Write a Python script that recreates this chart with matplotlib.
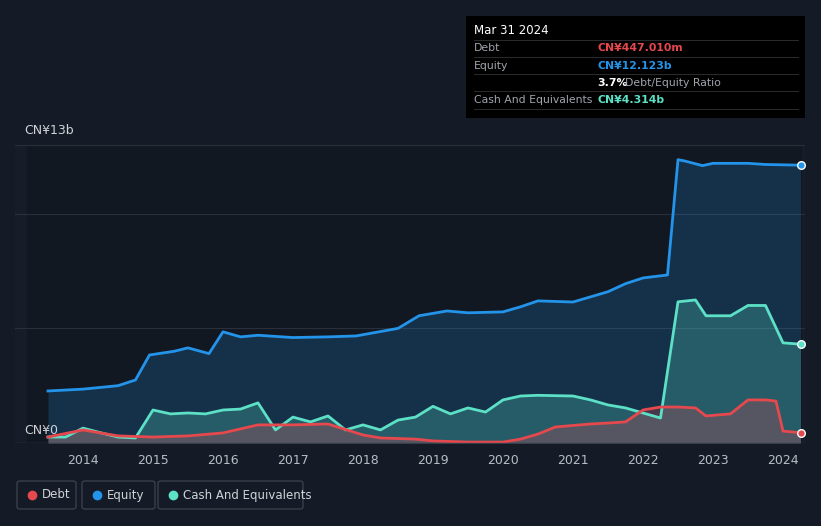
import numpy as np
import matplotlib.pyplot as plt
from matplotlib.patches import Rectangle, FancyBboxPatch

years = [2013.5, 2014.0, 2014.5, 2014.75, 2014.95, 2015.3, 2015.5, 2015.8, 2016.0, 2016.25,
         2016.5, 2017.0, 2017.5, 2017.9, 2018.5, 2018.8, 2019.2, 2019.5, 2020.0, 2020.25,
         2020.5, 2021.0, 2021.5, 2021.75, 2022.0, 2022.35, 2022.5, 2022.6, 2022.85, 2023.0,
         2023.5, 2023.75, 2024.25]
equity = [2.27, 2.35, 2.5, 2.75, 3.84, 4.0, 4.15, 3.9, 4.85, 4.63,
          4.7, 4.6, 4.63, 4.67, 5.0, 5.55, 5.76, 5.68, 5.72, 5.94,
          6.2, 6.15, 6.6, 6.95, 7.2, 7.33, 12.36, 12.3, 12.1, 12.2,
          12.2, 12.15, 12.12]

cash_x = [2013.5, 2013.75, 2014.0, 2014.25, 2014.5, 2014.75, 2015.0, 2015.25, 2015.5, 2015.75,
          2016.0, 2016.25, 2016.5, 2016.75, 2017.0, 2017.25, 2017.5, 2017.75, 2018.0, 2018.25,
          2018.5, 2018.75, 2019.0, 2019.25, 2019.5, 2019.75, 2020.0, 2020.25, 2020.5, 2021.0,
          2021.25, 2021.5, 2021.75, 2022.0, 2022.25, 2022.5, 2022.75, 2022.9, 2023.25, 2023.5,
          2023.75, 2024.0, 2024.25]
cash = [0.26, 0.26, 0.65, 0.45, 0.26, 0.22, 1.44, 1.27, 1.31, 1.27,
        1.44, 1.48, 1.75, 0.57, 1.13, 0.92, 1.18, 0.57, 0.79, 0.57,
        1.0, 1.13, 1.6, 1.27, 1.53, 1.35, 1.88, 2.05, 2.08, 2.05,
        1.88, 1.66, 1.53, 1.31, 1.09, 6.16, 6.24, 5.55, 5.55, 6.0,
        6.0, 4.37, 4.31]

debt_x = [2013.5, 2014.0, 2014.5, 2015.0, 2015.5, 2016.0, 2016.5, 2017.0, 2017.5, 2018.0,
          2018.25, 2018.75, 2019.0, 2019.5, 2020.0, 2020.25, 2020.5, 2020.75, 2021.25, 2021.5,
          2021.75, 2022.0, 2022.25, 2022.5, 2022.75, 2022.9, 2023.25, 2023.5, 2023.75, 2023.9,
          2024.0, 2024.25]
debt = [0.26, 0.57, 0.31, 0.26, 0.31, 0.44, 0.79, 0.79, 0.83, 0.35,
        0.22, 0.17, 0.09, 0.04, 0.04, 0.17, 0.39, 0.7, 0.83, 0.87,
        0.92, 1.44, 1.57, 1.57, 1.53, 1.18, 1.27, 1.88, 1.88, 1.83,
        0.52, 0.447]

BG = '#151b26'
C_EQ = '#2394e9'
C_CASH = '#5ce0c6'
C_DEBT = '#e5484d'

fig = plt.figure(figsize=(8.21, 5.26), dpi=100, facecolor=BG)
ax = fig.add_axes([15 / 821, 1 - 443 / 526, 790 / 821, 298 / 526], facecolor='#161d29')
ax.axvspan(2013.2, 2024.25, color='#121822', zorder=0)

ax.fill_between(years, equity, color=C_EQ, alpha=0.2, lw=0)
ax.plot(years, equity, color=C_EQ, lw=2)
ax.fill_between(cash_x, cash, color=C_CASH, alpha=0.25, lw=0)
ax.plot(cash_x, cash, color=C_CASH, lw=2)
ax.fill_between(debt_x, debt, color=C_DEBT, alpha=0.25, lw=0)
ax.plot(debt_x, debt, color=C_DEBT, lw=2)
ax.scatter([years[-1]], [equity[-1]], color=C_EQ, s=30, zorder=5, edgecolors='white', linewidths=1)
ax.scatter([cash_x[-1]], [cash[-1]], color=C_CASH, s=30, zorder=5, edgecolors='white', linewidths=1)
ax.scatter([debt_x[-1]], [debt[-1]], color=C_DEBT, s=30, zorder=5, edgecolors='white', linewidths=1)

x0 = 2013.5 - 33 / 70
ax.set_xlim(x0, x0 + 790 / 70)
ax.set_ylim(0, 13)
for y in [5, 10, 13]:
    ax.axhline(y, color='#2a303b', lw=0.8, zorder=0)
ax.set_yticks([])
ax.set_xticks(range(2014, 2025))
ax.tick_params(axis='x', colors='#b8bcc4', labelsize=9, length=0, pad=8)
for s in ax.spines.values():
    s.set_visible(False)
ax.axhline(0, color='#3a404b', lw=1)

fig.text(24 / 821, 1 - 131 / 526, 'CN¥13b', color='#d0d3d8', fontsize=9, va='center')
fig.text(24 / 821, 1 - 431 / 526, 'CN¥0', color='#d0d3d8', fontsize=9, va='center')

# tooltip box
fig.patches.append(Rectangle((466 / 821, 1 - 118 / 526), 339 / 821, 102 / 526,
                             transform=fig.transFigure, facecolor='black', edgecolor='none'))
rows = [('Debt', 'CN¥447.010m', C_DEBT, 48), ('Equity', 'CN¥12.123b', C_EQ, 66),
        ('Cash And Equivalents', 'CN¥4.314b', C_CASH, 100)]
fig.text(474 / 821, 1 - 31 / 526, 'Mar 31 2024', color='white', fontsize=8.5, va='center')
for lab, val, col, yy in rows:
    fig.text(474 / 821, 1 - yy / 526, lab, color='#a0a4ab', fontsize=7.8, va='center')
    fig.text(597 / 821, 1 - yy / 526, val, color=col, fontsize=7.8, va='center', weight='bold')
fig.text(597 / 821, 1 - 83 / 526, '3.7%', color='white', fontsize=7.8, va='center', weight='bold')
fig.text(625 / 821, 1 - 83 / 526, 'Debt/Equity Ratio', color='#a0a4ab', fontsize=7.8, va='center')
for yy in [40, 57, 74, 91, 109]:
    fig.add_artist(plt.Line2D([474 / 821, 798 / 821], [1 - yy / 526] * 2, color='#333', lw=0.6))

# legend
items = [('Debt', C_DEBT, 17, 76), ('Equity', C_EQ, 82, 155), ('Cash And Equivalents', C_CASH, 158, 303)]
for lab, col, xa, xb in items:
    fig.patches.append(FancyBboxPatch((xa / 821, 1 - 509 / 526), (xb - xa) / 821, 28 / 526,
                                      boxstyle='round,pad=0,rounding_size=0.004', transform=fig.transFigure,
                                      facecolor='none', edgecolor='#3a404b', lw=1))
    fig.add_artist(plt.Line2D([(xa + 15) / 821], [1 - 495 / 526], marker='o', color=col, markersize=6))
    fig.text((xa + 25) / 821, 1 - 495 / 526, lab, color='#d0d3d8', fontsize=8.5, va='center')

fig.savefig('out.png', dpi=100, facecolor=BG)
